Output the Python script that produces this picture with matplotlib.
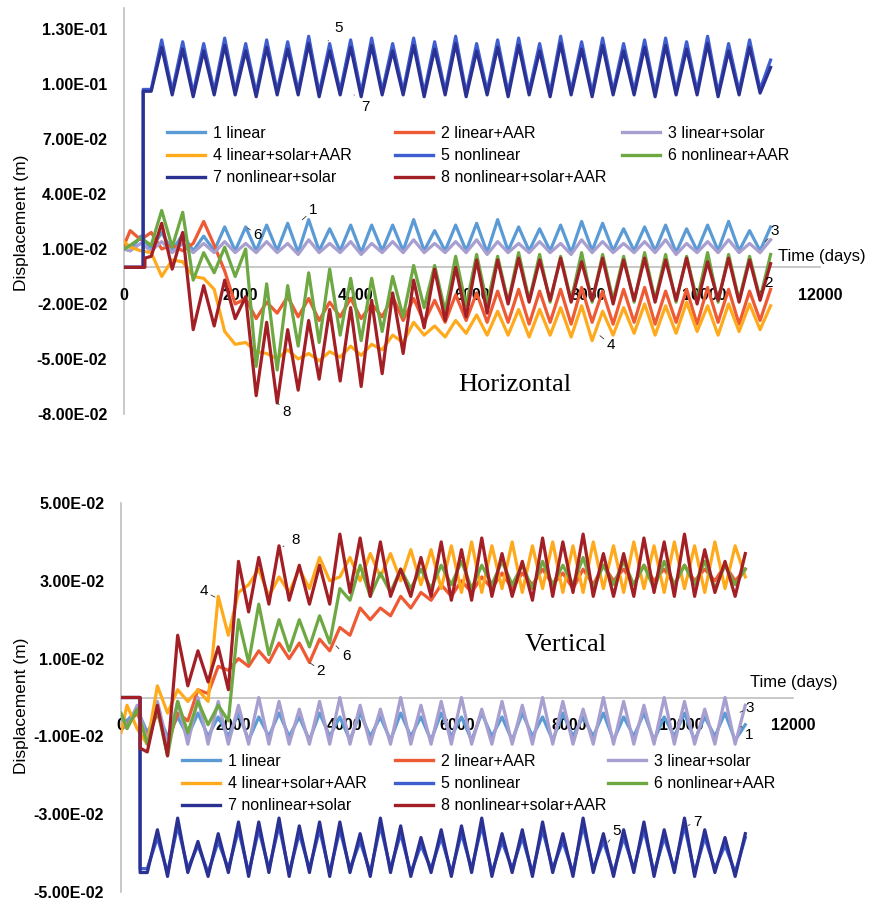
import numpy as np
import matplotlib
matplotlib.use('Agg')
import matplotlib.pyplot as plt
from matplotlib.lines import Line2D
from matplotlib.ticker import FuncFormatter

plt.rcParams['font.family'] = ['Liberation Sans', 'DejaVu Sans']

# time samples (days): start, then alternating trough / peak of the yearly cycle
days = [0] + list(range(107, 11149, 181))

names = ['1 linear', '2 linear+AAR', '3 linear+solar', '4 linear+solar+AAR',
         '5 nonlinear', '6 nonlinear+AAR', '7 nonlinear+solar', '8 nonlinear+solar+AAR']
colors = ['#5B9BD5', '#EE5A33', '#A89ED0', '#FFAA1D',
          '#3F5FD0', '#6EA843', '#2B3192', '#A21F25']

# ---------------- horizontal displacement (mm) ----------------
# series 5, 7, 8 begin with a step, their own first three times
h_step57 = [0, 330, 331]
h_step8 = [0, 360, 361]

h1 = [10, 9, 17, 10, 19, 9, 18, 9, 17, 9,
      22, 9, 22, 9, 23, 9, 24, 8, 26, 9,
      21, 9, 23, 8, 23, 9, 23, 9, 26, 9,
      20, 9, 23, 9, 24, 8, 26, 9, 22, 9,
      21, 9, 23, 8, 25, 9, 24, 9, 21, 9,
      22, 9, 23, 8, 21, 9, 23, 9, 25, 9,
      20, 9, 22]
h2 = [12, 20, 15, 19, 10, 12, 9, 13, 25, 12,
      -2, -20, -17, -28, -19, -25, -16, -27, -17, -29,
      -19, -27, -17, -28, -20, -27, -16, -29, -17, -30,
      -18, -30, -15, -29, -14, -30, -13, -30, -12, -31,
      -13, -30, -12, -31, -11, -30, -13, -31, -12, -30,
      -11, -31, -13, -30, -12, -31, -11, -30, -12, -31,
      -13, -29, -12]
h3 = [10, 9, 13, 9, 14, 8, 13, 8, 13, 8,
      14, 8, 13, 8, 14, 8, 13, 7, 15, 8,
      13, 8, 14, 7, 13, 8, 14, 8, 15, 8,
      13, 8, 14, 8, 15, 7, 14, 8, 13, 8,
      14, 8, 13, 7, 15, 8, 14, 8, 13, 8,
      14, 8, 15, 7, 13, 8, 14, 8, 15, 8,
      13, 8, 15]
h4 = [14, 11, 9, 8, -5, 4, 3, -5, -6, -12,
      -35, -42, -41, -46, -47, -50, -45, -50, -47, -51,
      -46, -49, -43, -48, -42, -45, -37, -41, -30, -37,
      -32, -38, -29, -36, -26, -37, -24, -37, -23, -38,
      -23, -37, -22, -38, -21, -40, -24, -37, -22, -36,
      -20, -37, -21, -36, -19, -35, -21, -37, -20, -35,
      -20, -34, -21]
h5 = [0, 0, 97, 97, 124, 96, 123, 95, 122, 96,
      125, 96, 122, 95, 124, 96, 123, 96, 126, 95,
      122, 96, 124, 95, 125, 96, 122, 96, 125, 95,
      123, 96, 126, 95, 122, 96, 124, 95, 125, 96,
      122, 95, 126, 96, 123, 95, 125, 96, 122, 96,
      124, 95, 125, 96, 123, 96, 126, 95, 122, 96,
      124, 97, 113]
h6 = [10, 12, 16, 12, 31, 11, 30, -7, 8, -3,
      11, -5, 10, -54, -9, -56, -10, -43, -3, -41,
      -1, -37, -6, -40, -6, -35, -5, -27, 1, -22,
      1, -24, 6, -21, 7, -20, 6, -19, 8, -18,
      7, -19, 6, -18, 8, -19, 7, -18, 6, -19,
      8, -18, 7, -19, 6, -18, 8, -19, 7, -18,
      6, -17, 7]
h7 = [0, 0, 96, 96, 120, 94, 119, 93, 118, 94,
      121, 94, 118, 93, 120, 94, 119, 94, 122, 93,
      118, 94, 120, 93, 121, 94, 118, 94, 121, 93,
      119, 94, 122, 93, 118, 94, 120, 93, 121, 94,
      118, 93, 122, 94, 119, 93, 121, 94, 118, 94,
      120, 93, 121, 94, 119, 94, 122, 93, 118, 94,
      120, 95, 109]
h8 = [0, 0, 5, 6, 24, -1, 19, -34, -10, -32,
      -7, -28, -16, -70, -30, -74, -34, -67, -29, -61,
      -23, -62, -22, -65, -18, -58, -14, -47, -7, -33,
      -1, -29, 0, -27, 4, -25, 4, -20, 5, -19,
      4, -18, 5, -19, 3, -18, 5, -20, 4, -18,
      5, -19, 4, -18, 5, -20, 3, -18, 5, -19,
      4, -18, 2]

# ---------------- vertical displacement (mm) ----------------
v_step = [0, 340, 341]

v1 = [-5, -6, -3, -9, -4, -10, -5, -10, -4, -10,
      -5, -10, -4, -11, -5, -10, -4, -10, -5, -11,
      -4, -10, -5, -11, -4, -10, -5, -11, -4, -10,
      -5, -11, -4, -10, -5, -11, -4, -10, -5, -11,
      -4, -10, -5, -11, -4, -10, -5, -10, -4, -11,
      -5, -10, -4, -11, -5, -10, -4, -11, -5, -10,
      -4, -11, -7]
v2 = [-8, -7, -4, -10, -4, -12, -4, -6, 2, 1,
      8, 7, 10, 8, 12, 9, 14, 10, 14, 9,
      15, 12, 18, 16, 23, 20, 23, 21, 26, 23,
      27, 25, 29, 26, 30, 27, 31, 28, 32, 28,
      32, 29, 33, 29, 32, 28, 33, 29, 34, 30,
      33, 29, 34, 30, 33, 29, 34, 30, 33, 30,
      34, 30, 33]
v3 = [-5, -8, -2, -11, -1, -12, -1, -12, 0, -12,
      -1, -12, -2, -12, 0, -12, -1, -12, -3, -12,
      -1, -12, 0, -12, -2, -12, -3, -12, 0, -12,
      -2, -12, -1, -12, 0, -12, -3, -12, -1, -12,
      -2, -12, 0, -12, -1, -12, -3, -12, 0, -12,
      -1, -12, -2, -12, 0, -12, -1, -12, -3, -12,
      0, -12, -2]
v4 = [-9, -2, -8, -12, 3, -4, 2, -1, 2, -1,
      26, 16, 27, 29, 33, 26, 31, 27, 33, 28,
      36, 30, 31, 36, 30, 37, 31, 37, 30, 38,
      29, 38, 28, 39, 27, 40, 27, 39, 28, 40,
      27, 39, 28, 40, 27, 39, 27, 40, 28, 39,
      27, 40, 28, 39, 27, 40, 28, 39, 27, 40,
      28, 39, 31]
v5 = [0, 0, -44, -44, -36, -45, -33, -44, -38, -45,
      -37, -44, -34, -45, -34, -44, -33, -45, -35, -44,
      -34, -45, -34, -44, -37, -45, -33, -44, -35, -45,
      -38, -44, -36, -45, -35, -44, -33, -45, -37, -44,
      -36, -45, -34, -44, -37, -45, -33, -44, -37, -45,
      -36, -44, -34, -45, -36, -44, -33, -45, -36, -44,
      -38, -45, -36]
v6 = [-4, -8, -3, -12, -3, -15, -1, -9, -1, -7,
      -2, -6, 20, 9, 24, 11, 20, 12, 20, 13,
      21, 14, 28, 25, 34, 26, 32, 27, 33, 28,
      33, 28, 34, 29, 35, 28, 34, 29, 35, 29,
      34, 28, 35, 29, 34, 29, 36, 28, 34, 29,
      35, 29, 34, 28, 35, 29, 34, 29, 35, 28,
      34, 29, 33]
v7 = [0, 0, -45, -45, -34, -46, -31, -45, -37, -46,
      -35, -45, -32, -46, -32, -45, -31, -46, -33, -45,
      -32, -46, -32, -45, -35, -46, -31, -45, -33, -46,
      -36, -45, -34, -46, -33, -45, -31, -46, -35, -45,
      -34, -46, -32, -45, -35, -46, -31, -45, -35, -46,
      -34, -45, -32, -46, -34, -45, -31, -46, -34, -45,
      -36, -46, -35]
v8 = [0, 0, -13, -14, -2, -15, 16, 3, 12, 4,
      13, 2, 35, 22, 36, 24, 39, 25, 34, 24,
      34, 24, 42, 27, 41, 26, 40, 26, 33, 26,
      36, 26, 40, 25, 38, 25, 41, 26, 37, 26,
      35, 25, 41, 26, 40, 27, 42, 26, 37, 26,
      37, 26, 41, 27, 40, 26, 42, 26, 38, 27,
      35, 26, 37]

W, H = 871, 901
fig = plt.figure(figsize=(W / 100, H / 100), dpi=100)


def fx(px):
    return px / W


def fy(py):
    return 1 - py / H


def setup(ax, ylim, yticks):
    ax.set_xlim(0, 12000)
    ax.set_ylim(*ylim)
    ax.set_yticks(yticks)
    ax.set_xticks([0, 2000, 4000, 6000, 8000, 10000, 12000])
    ax.yaxis.set_major_formatter(FuncFormatter(lambda v, p: '{:.2E}'.format(v)))
    for s in ['top', 'right']:
        ax.spines[s].set_visible(False)
    ax.spines['bottom'].set_position(('data', 0))
    for s in ['bottom', 'left']:
        ax.spines[s].set_color('#BFBFBF')
        ax.spines[s].set_linewidth(1.2)
        ax.spines[s].set_zorder(0.5)
    ax.set_axisbelow(True)
    ax.tick_params(length=0, labelsize=11.5)
    ax.tick_params(axis='x', pad=15)
    ax.tick_params(axis='y', pad=12)
    for lab in ax.get_xticklabels() + ax.get_yticklabels():
        lab.set_fontweight('bold')


def draw(ax, xs, ys):
    for i in range(8):
        ax.plot(xs[i], np.array(ys[i]) / 1000, color=colors[i], lw=2.3,
                solid_joinstyle='round', zorder=2 + i * 0.1)


def legend(cols_px, top_px):
    handles = [Line2D([], [], color=c, lw=2.4) for c in colors]
    order = [[0, 3, 6], [1, 4, 7], [2, 5]]
    for x0, idx in zip(cols_px, order):
        fig.legend([handles[i] for i in idx], [names[i] for i in idx],
                   loc='upper left', bbox_to_anchor=(fx(x0), fy(top_px)),
                   frameon=False, fontsize=11.5, handlelength=2.4,
                   handletextpad=0.45, labelspacing=0.45,
                   borderpad=0, borderaxespad=0)


def tag(ax, txt, xy, xyt):
    ax.annotate(txt, xy=xy, xytext=xyt, fontsize=11, ha='center', va='center',
                arrowprops=dict(arrowstyle='-', color='#333333', lw=0.6,
                                shrinkA=4, shrinkB=0))


# ---- top: horizontal ----
ax1 = fig.add_axes([fx(124), fy(414), fx(820 - 124), (414 - 8) / H])
setup(ax1, (-0.08, 0.1414), [-0.08, -0.05, -0.02, 0.01, 0.04, 0.07, 0.10, 0.13])
hx57 = h_step57 + days[3:]
hx8 = h_step8 + days[3:]
draw(ax1, [days, days, days, days, hx57, days, hx57, hx8],
     [h1, h2, h3, h4, h5, h6, h7, h8])
tag(ax1, '5', (3519, 0.1234), (3708, 0.1305))
tag(ax1, '7', (3966, 0.094), (4155, 0.0875))
tag(ax1, '1', (3073, 0.0259), (3262, 0.0313))
tag(ax1, '6', (2129, 0.0215), (2300, 0.0177))
tag(ax1, '8', (2627, -0.0733), (2798, -0.0788))
tag(ax1, '4', (8206, -0.0373), (8395, -0.0422))
tag(ax1, '3', (11056, 0.0139), (11227, 0.0199))
tag(ax1, '2', (10970, -0.0134), (11107, -0.0084))
legend([167, 395, 622], 126)
fig.text(fx(778), fy(257), 'Time (days)', fontsize=12, ha='left', va='center')
fig.text(fx(22), fy(223), 'Displacement (m)', fontsize=12.5, rotation=90,
         ha='center', va='center')
fig.text(fx(515), fy(385), 'Horizontal', fontsize=19, family='Liberation Serif',
         ha='center', va='center')

# ---- bottom: vertical ----
ax2 = fig.add_axes([fx(121), fy(892), fx(793 - 121), (892 - 503) / H])
setup(ax2, (-0.05, 0.05), [-0.05, -0.03, -0.01, 0.01, 0.03, 0.05])
vx = v_step + days[3:]
draw(ax2, [days, days, days, days, vx, days, vx, vx],
     [v1, v2, v3, v4, v5, v6, v7, v8])
tag(ax2, '8', (2893, 0.0388), (3125, 0.0405))
tag(ax2, '4', (1679, 0.0258), (1482, 0.0273))
tag(ax2, '2', (3375, 0.0089), (3571, 0.0069))
tag(ax2, '6', (3839, 0.0133), (4018, 0.0107))
tag(ax2, '3', (11054, -0.0038), (11232, -0.0026))
tag(ax2, '1', (11071, -0.0074), (11214, -0.0097))
tag(ax2, '5', (8696, -0.0372), (8857, -0.0344))
tag(ax2, '7', (10125, -0.0329), (10286, -0.0319))
legend([182, 395, 608], 754)
fig.text(fx(750), fy(683), 'Time (days)', fontsize=12, ha='left', va='center')
fig.text(fx(22), fy(706), 'Displacement (m)', fontsize=12.5, rotation=90,
         ha='center', va='center')
fig.text(fx(566), fy(645), 'Vertical', fontsize=19, family='Liberation Serif',
         ha='center', va='center')

fig.savefig('out.png', dpi=100)
